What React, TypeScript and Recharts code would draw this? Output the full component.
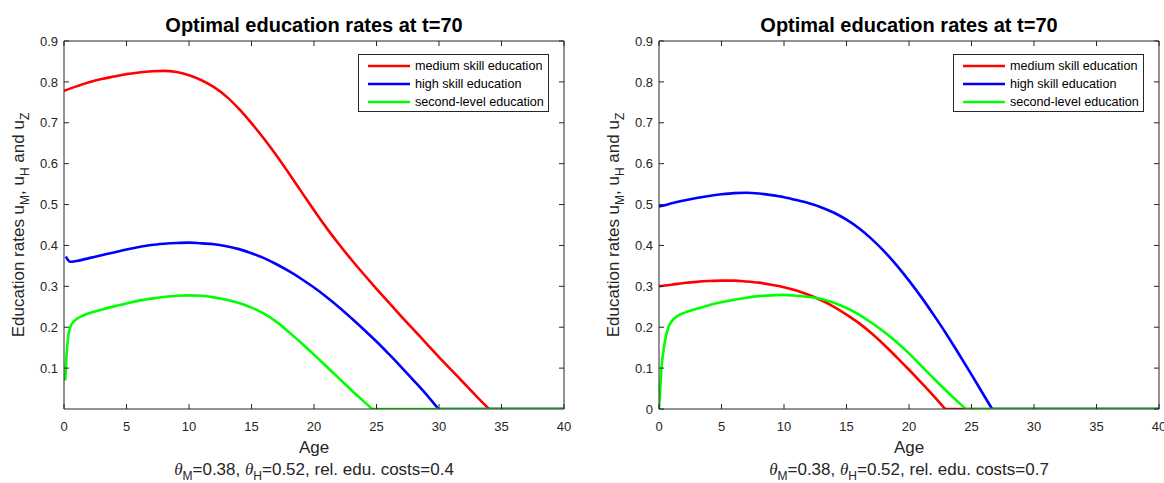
import React from 'react';
import { LineChart, Line, XAxis, YAxis, Legend } from 'recharts';

const FONT = '"Liberation Sans", Arial, Helvetica, sans-serif';
const AXIS_COLOR = '#262626';

const TITLE = 'Optimal education rates at t=70';
const X_LABEL = 'Age';
const X_TICKS = [0, 5, 10, 15, 20, 25, 30, 35, 40];
const Y_TICKS_LEFT = [0.1, 0.2, 0.3, 0.4, 0.5, 0.6, 0.7, 0.8, 0.9];
const Y_TICKS_RIGHT = [0, 0.1, 0.2, 0.3, 0.4, 0.5, 0.6, 0.7, 0.8, 0.9];
const SERIES_NAMES = ['medium skill education', 'high skill education', 'second-level education'];
const SERIES_COLORS = ['#ff0000', '#0000ff', '#00ff00'];
const THETA_M = '0.38';
const THETA_H = '0.52';
const COSTS = ['0.4', '0.7'];

// Left panel (rel. edu. costs = 0.4)
const L_MED_AGE = [0, 1, 2, 3, 4, 5, 6, 7, 8, 9, 10, 11, 12, 13, 14, 15, 16, 17, 18, 19, 20, 21, 22, 23, 24, 25, 26, 27, 28, 29, 30, 31, 32, 33, 34, 40];
const L_MED_VAL = [0.778, 0.789, 0.799, 0.807, 0.813, 0.819, 0.823, 0.826, 0.827, 0.824, 0.816, 0.804, 0.787, 0.764, 0.734, 0.699, 0.661, 0.62, 0.576, 0.531, 0.486, 0.443, 0.403, 0.365, 0.329, 0.294, 0.26, 0.226, 0.193, 0.16, 0.127, 0.095, 0.063, 0.031, 0, 0];
const L_HIGH_AGE = [0.15, 0.3, 0.5, 1, 2, 3, 4, 5, 6, 7, 8, 9, 10, 11, 12, 13, 14, 15, 16, 17, 18, 19, 20, 21, 22, 23, 24, 25, 26, 27, 28, 29, 29.95, 40];
const L_HIGH_VAL = [0.373, 0.365, 0.36, 0.362, 0.369, 0.376, 0.383, 0.39, 0.396, 0.401, 0.404, 0.406, 0.407, 0.405, 0.403, 0.398, 0.391, 0.381, 0.369, 0.354, 0.337, 0.318, 0.297, 0.274, 0.249, 0.222, 0.194, 0.165, 0.134, 0.102, 0.069, 0.035, 0, 0];
const L_SEC_AGE = [0.1, 0.2, 0.35, 0.5, 0.75, 1, 1.5, 2, 3, 4, 5, 6, 7, 8, 9, 10, 11, 12, 13, 14, 15, 16, 17, 18, 19, 20, 21, 22, 23, 24, 24.65, 40];
const L_SEC_VAL = [0.07, 0.13, 0.18, 0.2, 0.213, 0.22, 0.228, 0.234, 0.243, 0.251, 0.258, 0.265, 0.27, 0.274, 0.277, 0.278, 0.277, 0.273, 0.267, 0.259, 0.248, 0.233, 0.213, 0.188, 0.161, 0.133, 0.104, 0.075, 0.046, 0.018, 0, 0];

// Right panel (rel. edu. costs = 0.7)
const R_MED_AGE = [0, 1, 2, 3, 4, 5, 6, 7, 8, 9, 10, 11, 12, 13, 14, 15, 16, 17, 18, 19, 20, 21, 22, 22.9, 40];
const R_MED_VAL = [0.3, 0.304, 0.308, 0.311, 0.313, 0.314, 0.314, 0.312, 0.309, 0.304, 0.298, 0.29, 0.279, 0.266, 0.25, 0.231, 0.21, 0.185, 0.157, 0.127, 0.096, 0.064, 0.031, 0, 0];
const R_HIGH_AGE = [0, 0.3, 1, 2, 3, 4, 5, 6, 7, 8, 9, 10, 11, 12, 13, 14, 15, 16, 17, 18, 19, 20, 21, 22, 23, 24, 25, 26, 26.65, 40];
const R_HIGH_VAL = [0.495, 0.497, 0.503, 0.51, 0.516, 0.521, 0.525, 0.528, 0.529, 0.527, 0.523, 0.518, 0.511, 0.503, 0.493, 0.48, 0.463, 0.442, 0.416, 0.386, 0.352, 0.314, 0.273, 0.229, 0.183, 0.134, 0.084, 0.033, 0, 0];
const R_SEC_AGE = [0, 0.1, 0.2, 0.35, 0.5, 0.75, 1, 1.5, 2, 3, 4, 5, 6, 7, 8, 9, 10, 11, 12, 13, 14, 15, 16, 17, 18, 19, 20, 21, 22, 23, 24, 24.55, 40];
const R_SEC_VAL = [0, 0.05, 0.1, 0.14, 0.17, 0.2, 0.214, 0.228, 0.235, 0.245, 0.254, 0.261, 0.267, 0.272, 0.276, 0.278, 0.279, 0.277, 0.274, 0.269, 0.26, 0.247, 0.231, 0.211, 0.189, 0.164, 0.136, 0.105, 0.074, 0.044, 0.015, 0, 0];

type Pt = { age: number; u: number };
const zip = (ages: number[], vals: number[]): Pt[] => ages.map((a, i) => ({ age: a, u: vals[i] }));

const LEFT_SERIES = [zip(L_MED_AGE, L_MED_VAL), zip(L_HIGH_AGE, L_HIGH_VAL), zip(L_SEC_AGE, L_SEC_VAL)];
const RIGHT_SERIES = [zip(R_MED_AGE, R_MED_VAL), zip(R_HIGH_AGE, R_HIGH_VAL), zip(R_SEC_AGE, R_SEC_VAL)];

// split each series at the point where it reaches zero (curved part + flat part)
const splitAtZero = (d: Pt[]) => {
  let k = d.length - 1;
  for (let i = 1; i < d.length; i++) {
    if (d[i].u === 0) { k = i; break; }
  }
  return { curve: d.slice(0, k + 1), flat: d.slice(k) };
};

const W = 582;
const H = 483;
// plot area: x 64..564, y 41..409
const XB_H = 30;
const XT_H = 6;
const YL_W = 40;
const YR_W = 6;
const M = { top: 41 - XT_H, right: 18 - YR_W, bottom: 74 - XB_H, left: 64 - YL_W };
const CX = 64 + (W - 64 - 18) / 2;

const renderLegend = (props: any) => {
  const payload = (props.payload || []) as any[];
  const items = SERIES_NAMES.map((n, i) => {
    const p = payload.find((q) => q.value === n);
    return { name: n, color: p ? p.color : SERIES_COLORS[i] };
  });
  return (
    <div style={{ width: 191, height: 58, boxSizing: 'border-box', border: `1px solid ${AXIS_COLOR}`, background: '#fff', position: 'relative', fontFamily: FONT }}>
      {items.map((it, i) => (
        <div key={it.name} style={{ position: 'absolute', left: 8, top: 2 + i * 18, height: 18, display: 'flex', alignItems: 'center', whiteSpace: 'nowrap' }}>
          <svg width={44} height={18} style={{ display: 'block' }}>
            <line x1={1} x2={43} y1={9} y2={9} stroke={it.color} strokeWidth={2.6} />
          </svg>
          <span style={{ marginLeft: 4, fontSize: 12.6, color: '#000', lineHeight: '18px' }}>{it.name}</span>
        </div>
      ))}
    </div>
  );
};

const Panel = ({ left, series, yTicks, cost }: { left: number; series: Pt[][]; yTicks: number[]; cost: string }) => {
  const tickStyle = { fill: AXIS_COLOR, fontSize: 13, fontFamily: FONT };
  const lineStyle = { stroke: AXIS_COLOR, strokeWidth: 1 };
  const parts = series.map(splitAtZero);
  return (
    <div style={{ position: 'absolute', left, top: 0, width: W, height: H }}>
      <LineChart width={W} height={H} margin={M}>
        <XAxis xAxisId="b" type="number" dataKey="age" domain={[0, 40]} ticks={X_TICKS} interval={0} allowDataOverflow
          height={XB_H} tickSize={-5} tickMargin={18} tick={tickStyle} axisLine={lineStyle} tickLine={lineStyle} />
        <XAxis xAxisId="t" orientation="top" type="number" dataKey="age" domain={[0, 40]} ticks={X_TICKS} interval={0} allowDataOverflow
          height={XT_H} tickSize={-5} tickMargin={2} tickFormatter={() => ''} axisLine={lineStyle} tickLine={lineStyle} />
        <YAxis yAxisId="l" type="number" domain={[0, 0.9]} ticks={yTicks} interval={0} allowDataOverflow
          width={YL_W} tickSize={-5} tickMargin={11} tick={tickStyle} tickFormatter={(v: number) => String(v)}
          axisLine={lineStyle} tickLine={lineStyle} />
        <YAxis yAxisId="r" orientation="right" type="number" domain={[0, 0.9]} ticks={yTicks} interval={0} allowDataOverflow
          width={YR_W} tickSize={-5} tickMargin={2} tickFormatter={() => ''} axisLine={lineStyle} tickLine={lineStyle} />
        {parts.flatMap((p, i) => [
          <Line key={SERIES_NAMES[i]} xAxisId="b" yAxisId="l" data={p.curve} dataKey="u" name={SERIES_NAMES[i]}
            type="monotone" stroke={SERIES_COLORS[i]} strokeWidth={2.6} dot={false} activeDot={false}
            isAnimationActive={false} />,
          <Line key={SERIES_NAMES[i] + ' (zero)'} xAxisId="b" yAxisId="l" data={p.flat} dataKey="u" name={SERIES_NAMES[i] + ' (zero)'}
            type="linear" stroke={SERIES_COLORS[i]} strokeWidth={2.6} dot={false} activeDot={false} legendType="none"
            isAnimationActive={false} />,
        ])}
        <Legend layout="vertical" align="center" verticalAlign="middle" content={renderLegend}
          wrapperStyle={{ position: 'absolute', left: 358, top: 54, width: 191, height: 58 }} />
      </LineChart>
      <svg width={W} height={H} style={{ position: 'absolute', left: 0, top: 0, pointerEvents: 'none' }}>
        <text x={CX} y={31.5} textAnchor="middle" fontFamily={FONT} fontSize={20} fontWeight="bold" fill="#000">{TITLE}</text>
        <text transform={`translate(24,225) rotate(-90)`} textAnchor="middle" fontFamily={FONT} fontSize={17} fill={AXIS_COLOR}>
          Education rates u<tspan dy={5} fontSize={12}>M</tspan><tspan dy={-5}>, u</tspan><tspan dy={5} fontSize={12}>H</tspan><tspan dy={-5}> and u</tspan><tspan dy={5} fontSize={12}>Z</tspan>
        </text>
        <text x={CX} y={453} textAnchor="middle" fontFamily={FONT} fontSize={17} fill={AXIS_COLOR}>{X_LABEL}</text>
        <text x={CX} y={475} textAnchor="middle" fontFamily={FONT} fontSize={17} fill={AXIS_COLOR}>
          <tspan fontFamily='"Liberation Serif", "DejaVu Serif", serif' fontStyle="italic">θ</tspan><tspan dy={5} fontSize={12}>M</tspan><tspan dy={-5}>={THETA_M}, </tspan><tspan fontFamily='"Liberation Serif", "DejaVu Serif", serif' fontStyle="italic">θ</tspan><tspan dy={5} fontSize={12}>H</tspan><tspan dy={-5}>={THETA_H}, rel. edu. costs={cost}</tspan>
        </text>
      </svg>
    </div>
  );
};

export default function App() {
  return (
    <div style={{ position: 'absolute', left: 0, top: 0, width: 1164, height: 483, overflow: 'hidden', background: '#fff' }}>
      <Panel left={0} series={LEFT_SERIES} yTicks={Y_TICKS_LEFT} cost={COSTS[0]} />
      <Panel left={595} series={RIGHT_SERIES} yTicks={Y_TICKS_RIGHT} cost={COSTS[1]} />
    </div>
  );
}
